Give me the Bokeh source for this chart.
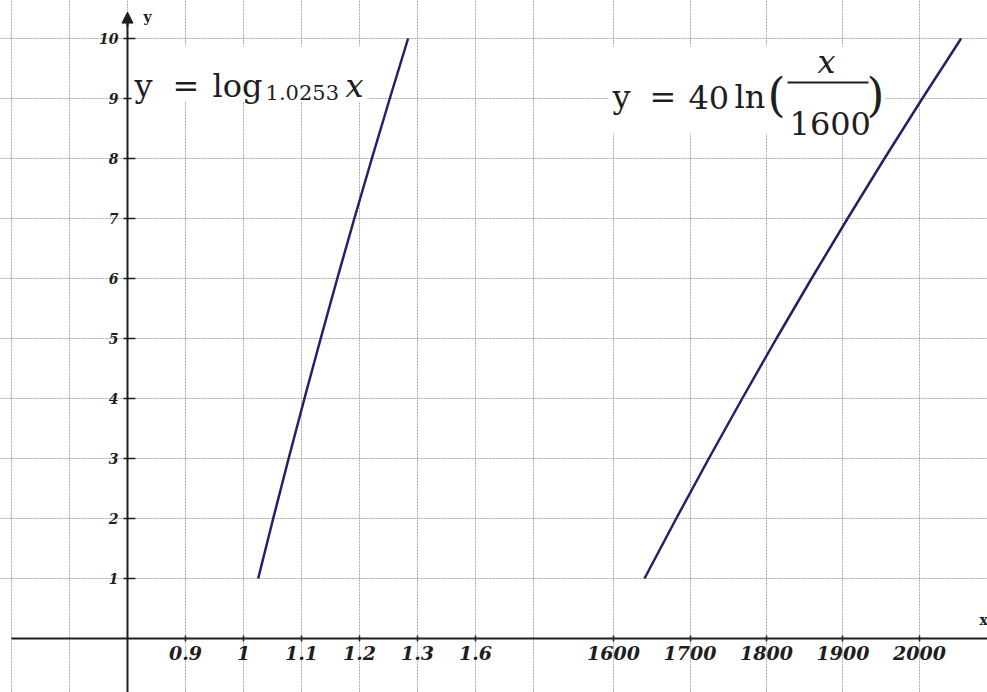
from bokeh.plotting import figure
from bokeh.models import (Range1d, LinearAxis, FixedTicker, Grid, Label, BoxAnnotation,
                          Arrow, NormalHead, CustomJSTickFormatter)
from bokeh.embed import file_html
from bokeh.resources import INLINE

# ---------------- data ----------------
y_vals = [1, 2, 3, 4, 5, 6, 7, 8, 9, 10]
# y = log_1.0253 x  (left, small-x segment of the broken axis)
x_left = [1.0253, 1.0512, 1.0778, 1.1051, 1.1331, 1.1617, 1.1911, 1.2213, 1.2522, 1.2838]
# y = 40 ln(x/1600)  (right, large-x segment of the broken axis)
x_right = [1640.5, 1682.0, 1724.6, 1768.3, 1813.0, 1858.9, 1906.0, 1954.2, 2003.7, 2054.4]

left_tick_pos = [0.9, 1.0, 1.1, 1.2, 1.3, 1.4]
left_tick_labels = ["0.9", "1", "1.1", "1.2", "1.3", "1.6"]
left_grid_pos = [0.6, 0.7, 0.8, 0.9, 1.0, 1.1, 1.2, 1.3, 1.4, 1.5]
right_ticks = [1600, 1700, 1800, 1900, 2000]
y_ticks = [1, 2, 3, 4, 5, 6, 7, 8, 9, 10]

# ---------------- layout constants ----------------
W, H = 987, 692
Y_AXIS_AT = 0.8
X_LEFT_RANGE = (0.58103, 2.28276)
X_RIGHT_RANGE = (798.69, 2088.89)
Y_RANGE = (-0.9, 10.6333)

INK = "#1e1e1e"
CURVE = "#22226a"
GRID = "#a8a8a8"
SERIF = "DejaVu Serif"

p = figure(width=W, height=H, x_range=Range1d(*X_LEFT_RANGE), y_range=Range1d(*Y_RANGE),
           x_axis_location=None, y_axis_location=None, toolbar_location=None,
           output_backend="svg", min_border=0, outline_line_color=None,
           background_fill_color="white", border_fill_color="white")
p.extra_x_ranges = {"right": Range1d(*X_RIGHT_RANGE)}
p.center = [r for r in p.center if not isinstance(r, Grid)]

gl = dict(grid_line_color=GRID, grid_line_dash="2 1", grid_line_width=1)
p.add_layout(Grid(dimension=0, ticker=FixedTicker(ticks=left_grid_pos), **gl))
p.add_layout(Grid(dimension=0, ticker=FixedTicker(ticks=right_ticks), x_range_name="right", **gl))
p.add_layout(Grid(dimension=1, ticker=FixedTicker(ticks=y_ticks), **gl))

# ---------------- axes ----------------
lab = dict(major_label_text_font=SERIF, major_label_text_font_style="bold italic",
           major_label_text_color=INK, minor_tick_line_color=None,
           major_tick_line_color=INK, major_tick_line_width=1.5)

fmt = CustomJSTickFormatter(args=dict(pos=left_tick_pos, labels=left_tick_labels), code="""
    const i = pos.findIndex(t => Math.abs(t - tick) < 1e-9);
    return i >= 0 ? labels[i] : '';
""")
xaxis_l = LinearAxis(fixed_location=0, ticker=FixedTicker(ticks=left_tick_pos), formatter=fmt,
                     bounds=(0.6, X_LEFT_RANGE[1]), axis_line_width=2, axis_line_color=INK,
                     major_tick_in=3, major_tick_out=3, major_label_standoff=5,
                     major_label_text_font_size="19px", **lab)
p.add_layout(xaxis_l, "below")
xaxis_r = LinearAxis(fixed_location=0, x_range_name="right", ticker=FixedTicker(ticks=right_ticks),
                     axis_line_color=None, major_tick_in=3, major_tick_out=3, major_label_standoff=5,
                     major_label_text_font_size="19px", **lab)
p.add_layout(xaxis_r, "below")
yaxis = LinearAxis(fixed_location=Y_AXIS_AT, ticker=FixedTicker(ticks=y_ticks),
                   bounds=(Y_RANGE[0], 10.3), axis_line_width=2, axis_line_color=INK,
                   major_tick_in=8, major_tick_out=4, major_label_standoff=5,
                   major_label_text_font_size="14px", **lab)
p.add_layout(yaxis, "left")
p.add_layout(Arrow(end=NormalHead(size=11, fill_color=INK, line_color=INK),
                   x_start=Y_AXIS_AT, y_start=10.2, x_end=Y_AXIS_AT, y_end=10.44,
                   line_width=2, line_color=INK))
p.add_layout(Label(x=0.8276, y=10.233, text="y", text_font=SERIF, text_font_style="bold",
                   text_font_size="14px", text_color=INK))
p.add_layout(Label(x=2.2690, y=0.17, text="x", text_font=SERIF, text_font_style="bold",
                   text_font_size="14px", text_color=INK))

# ---------------- curves ----------------
p.line(x_left, y_vals, line_color=CURVE, line_width=2.5)
p.line(x_right, y_vals, x_range_name="right", line_color=CURVE, line_width=2.5)

# ---------------- formula boxes ----------------
p.add_layout(BoxAnnotation(left=0.807, right=1.214, top=9.867, bottom=8.95,
                           fill_color="white", fill_alpha=1, line_color=None))
p.add_layout(BoxAnnotation(left=1593.5, right=1955.6, top=9.867, bottom=8.417,
                           x_range_name="right", fill_color="white", fill_alpha=1, line_color=None))

def lbl(x, y, text, size="32px", style="normal", rng="default"):
    p.add_layout(Label(x=x, y=y, text=text, text_font=SERIF, text_font_size=size,
                       text_font_style=style, text_color=INK, text_baseline="alphabetic",
                       x_range_name=rng))

# y = log_{1.0253} x
lbl(0.8121, 9.2, "y")
lbl(0.8776, 9.2, "=")
lbl(0.9466, 9.2, "log")
lbl(1.0380, 9.1, "1.0253", size="21px")
lbl(1.1759, 9.2, "x", style="italic")

# y = 40 ln(x / 1600)
lbl(1598.7, 9.0167, "y", rng="right")
lbl(1647.1, 9.0167, "=", rng="right")
lbl(1698.0, 9.0167, "40", rng="right")
lbl(1758.2, 9.0167, "ln", rng="right")
lbl(1801.3, 9.05, "(", size="46px", rng="right")
lbl(1866.7, 9.6, "x", style="italic", rng="right")
p.add_layout(BoxAnnotation(left=1827.5, right=1933.3, top=9.283, bottom=9.25,
                           x_range_name="right", fill_color=INK, fill_alpha=1, line_color=None))
lbl(1830.1, 8.583, "1600", rng="right")
lbl(1930.7, 9.05, ")", size="46px", rng="right")

open("out.html", "w").write(file_html(p, INLINE))
